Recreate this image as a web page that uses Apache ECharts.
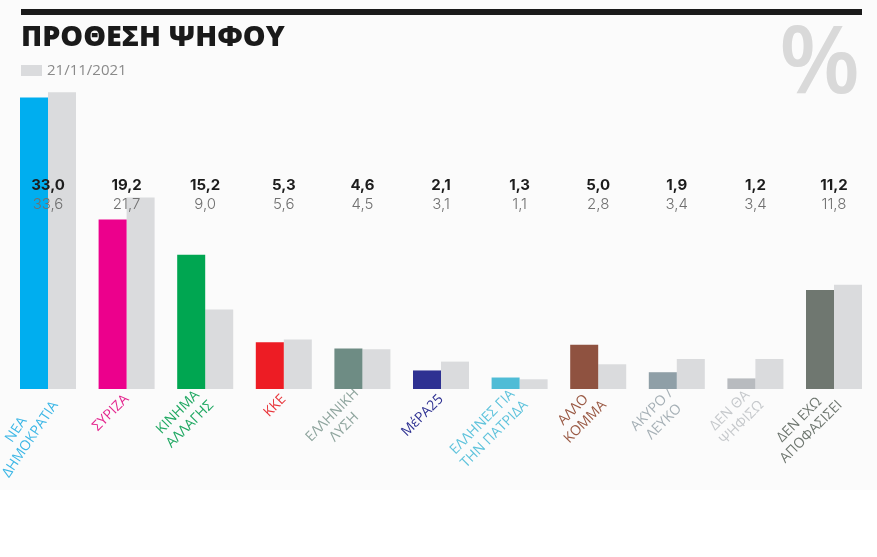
<!DOCTYPE html>
<html>
<head>
<meta charset="utf-8">
<script src="https://cdn.jsdelivr.net/npm/echarts@6/dist/echarts.min.js"></script>
<style>
html,body{margin:0;padding:0;background:#fff;}
#chart{width:877px;height:557px;}
</style>
</head>
<body>
<div id="chart"></div>
<script>
// ---- data ----
const categories = ['ΝΕΑ\nΔΗΜΟΚΡΑΤΙΑ', 'ΣΥΡΙΖΑ', 'ΚΙΝΗΜΑ\nΑΛΛΑΓΗΣ', 'ΚΚΕ', 'ΕΛΛΗΝΙΚΗ\nΛΥΣΗ', 'ΜέΡΑ25',
  'ΕΛΛΗΝΕΣ ΓΙΑ\nΤΗΝ ΠΑΤΡΙΔΑ', 'ΑΛΛΟ\nΚΟΜΜΑ', 'ΑΚΥΡΟ /\nΛΕΥΚΟ', 'ΔΕΝ ΘΑ\nΨΗΦΙΣΩ', 'ΔΕΝ ΕΧΩ\nΑΠΟΦΑΣΙΣΕΙ'];
const currentValues = [33.0, 19.2, 15.2, 5.3, 4.6, 2.1, 1.3, 5.0, 1.9, 1.2, 11.2];
const previousValues = [33.6, 21.7, 9.0, 5.6, 4.5, 3.1, 1.1, 2.8, 3.4, 3.4, 11.8];
const previousLabel = '21/11/2021';
const titleText = 'ΠΡΟΘΕΣΗ ΨΗΦΟΥ';

// ---- styles ----
const barColors = ['#00aeef', '#ec008c', '#00a651', '#ed1c24', '#6e8c84', '#2e3192',
  '#4fbcd6', '#8f5240', '#8f9fa7', '#b8bbbf', '#6f7770'];
const labelColors = ['#3db7e6', '#e4268f', '#1fa862', '#e8353b', '#8fa59e', '#2e3192',
  '#5fc3dc', '#9a5a45', '#a6b0b6', '#c6c9cc', '#6f7770'];
const grayColor = '#dadbdd';

const fmt = v => v.toFixed(1).replace('.', ',');

const chart = echarts.init(document.getElementById('chart'));
const rich = {};
labelColors.forEach((c, i) => {
  rich['c' + i] = { color: c, align: 'center', fontFamily: 'Open Sans', fontSize: 14, lineHeight: 17 };
});
const catLabel = (v, i) => v.split('\n').map(s => '{c' + i + '|' + s + '}').join('\n');

const gridLeft = 8.7, gridRight = 3.7;

chart.setOption({
  backgroundColor: '#ffffff',
  animation: false,
  graphic: [
    { type: 'rect', silent: true, z: -10, shape: { x: 0, y: 0, width: 877, height: 490 }, style: { fill: '#fbfbfb' } },
    { type: 'rect', shape: { x: 21, y: 9, width: 841, height: 6 }, style: { fill: '#1a1a1a' } },
    { type: 'text', left: 779, top: 19, style: { text: '%', font: '600 94px "Open Sans"', fill: '#d9d9d9' } }
  ],
  title: {
    text: titleText,
    left: 16, top: 18,
    textStyle: { fontFamily: 'Open Sans', fontWeight: 800, fontSize: 28.7, color: '#1a1a1a' }
  },
  legend: {
    data: [previousLabel],
    left: 21, top: 63, padding: 0,
    itemWidth: 21, itemHeight: 11, itemGap: 5,
    icon: 'rect',
    textStyle: { fontFamily: 'Open Sans', fontSize: 15, color: '#8a8a8a', padding: [0, 0, 0, 0] }
  },
  grid: [
    { left: gridLeft, right: gridRight, top: 35.8, bottom: 168, outerBoundsMode: 'none', containLabel: false },
    { left: gridLeft, right: gridRight, top: 172, height: 2, outerBoundsMode: 'none', containLabel: false }
  ],
  xAxis: [
    {
      type: 'category', data: categories, gridIndex: 0,
      axisLine: { show: false }, axisTick: { show: false },
      axisLabel: {
        interval: 0, rotate: 45, margin: 8,
        formatter: (v, i) => i === 0 ? '' : catLabel(v, i),
        rich: rich
      }
    },
    {
      type: 'category', data: categories, gridIndex: 1, z: 10,
      axisLine: { show: false }, axisTick: { show: false },
      axisLabel: {
        interval: 0, margin: 2,
        formatter: (v, i) => '{b|' + fmt(currentValues[i]) + '}\n{r|' + fmt(previousValues[i]) + '}',
        rich: {
          b: { fontFamily: 'Inter', fontWeight: 'bold', fontSize: 15, color: '#1c1c1c', lineHeight: 19, align: 'center' },
          r: { fontFamily: 'Inter', fontWeight: 300, fontSize: 15, color: '#707070', lineHeight: 19, align: 'center' }
        }
      }
    },
    {
      // first category label drawn steeper, as in the original
      type: 'category', data: categories, gridIndex: 0, position: 'bottom',
      axisLine: { show: false }, axisTick: { show: false },
      axisLabel: {
        interval: 0, rotate: 56, margin: 9,
        formatter: (v, i) => i === 0 ? catLabel(v, i) : '',
        rich: rich
      }
    }
  ],
  yAxis: [
    { type: 'value', min: 0, max: 40, show: false, gridIndex: 0 },
    { type: 'value', min: 0, max: 1, show: false, gridIndex: 1 }
  ],
  series: [
    {
      name: 'current', type: 'bar', barWidth: 28, barGap: '0%', z: 3,
      data: currentValues.map((v, i) => ({ value: v, itemStyle: { color: barColors[i] } }))
    },
    {
      name: previousLabel, type: 'bar', barWidth: 28, barGap: '0%', z: 2,
      itemStyle: { color: grayColor },
      data: previousValues
    }
  ]
});
</script>
</body>
</html>
